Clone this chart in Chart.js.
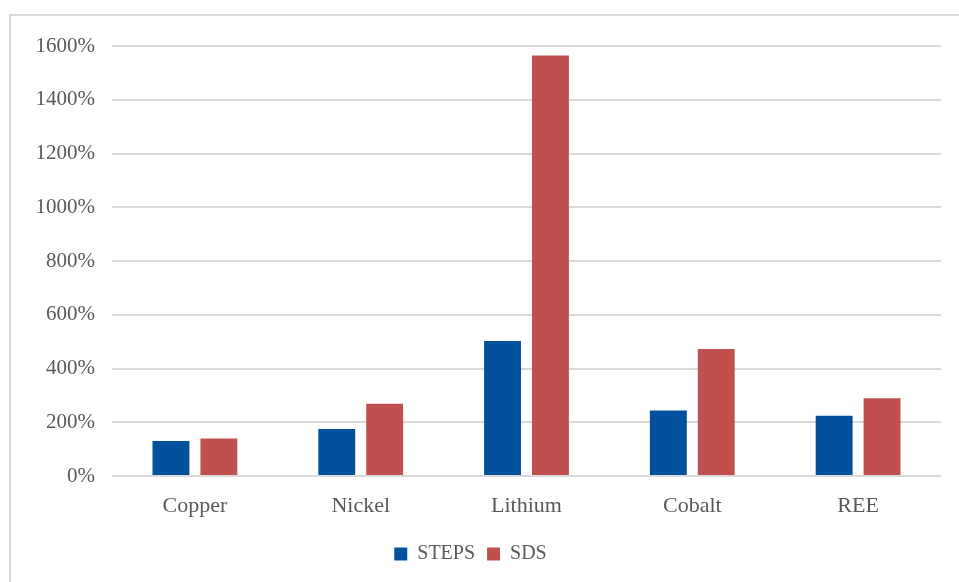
<!DOCTYPE html>
<html>
<head>
<meta charset="utf-8">
<script src="https://cdn.jsdelivr.net/npm/chart.js@4.4.1/dist/chart.umd.min.js"></script>
<style>
  html, body { margin: 0; padding: 0; background: #fff; }
  #frame {
    position: absolute; left: 9px; top: 14px; width: 970px; height: 600px;
    border: 2px solid #d9d9d9; box-sizing: border-box;
  }
  #wrap { position: absolute; left: 0; top: 0; width: 959px; height: 582px; }
</style>
</head>
<body>
<div id="frame"></div>
<div id="wrap"><canvas id="chart"></canvas></div>
<script>
/* ---------- data ---------- */
const minerals = ['Copper', 'Nickel', 'Lithium', 'Cobalt', 'REE'];
const stepsValues = [130, 175, 502, 244, 224];
const sdsValues   = [140, 269, 1565, 473, 289];
const seriesNames = ['STEPS', 'SDS'];

const BLUE = '#02519c';
const RED  = '#c0504d';
const TEXT = '#595959';
const FONT = "'Liberation Serif', 'DejaVu Serif', serif";

Chart.defaults.font.family = FONT;
Chart.defaults.color = TEXT;

new Chart(document.getElementById('chart'), {
  type: 'bar',
  data: {
    labels: minerals,
    datasets: [
      { label: seriesNames[0], data: stepsValues, backgroundColor: BLUE },
      { label: seriesNames[1], data: sdsValues,   backgroundColor: RED }
    ]
  },
  options: {
    responsive: true,
    maintainAspectRatio: false,
    animation: false,
    datasets: { bar: { categoryPercentage: 0.578, barPercentage: 0.77 } },
    layout: { padding: { top: 46, right: 18, left: 0, bottom: 8 } },
    plugins: {
      tooltip: { enabled: false },
      legend: {
        position: 'bottom',
        labels: {
          color: TEXT,
          font: { family: FONT, size: 20 },
          boxWidth: 13, boxHeight: 13,
          padding: 12
        }
      }
    },
    scales: {
      x: {
        grid: { display: false, drawTicks: false },
        border: { display: false },
        ticks: { color: TEXT, font: { family: FONT, size: 22 }, padding: 17 },
        afterFit(s) { s.height = 56; }
      },
      y: {
        min: 0, max: 1600,
        grid: { color: '#d9d9d9', lineWidth: 2, drawTicks: false },
        border: { display: false },
        ticks: {
          stepSize: 200,
          color: TEXT,
          font: { family: FONT, size: 21 },
          padding: 17,
          callback: v => v + '%'
        },
        afterFit(s) { s.width = 112; }
      }
    }
  }
});
</script>
</body>
</html>
